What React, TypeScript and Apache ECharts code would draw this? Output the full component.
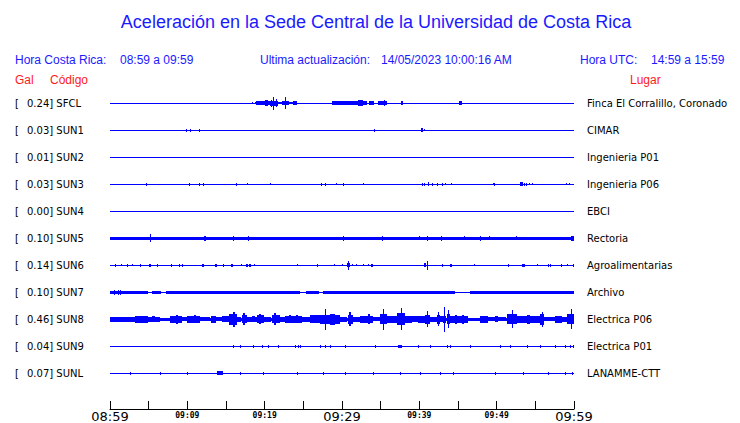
import React, { useEffect, useRef } from "react";
import * as echarts from "echarts";

const TITLE = "Aceleración en la Sede Central de la Universidad de Costa Rica";
const HORA_CR = "08:59 a 09:59";
const ULTIMA = "14/05/2023 10:00:16 AM";
const HORA_UTC = "14:59 a 15:59";

const STATIONS = ["SFCL", "SUN1", "SUN2", "SUN3", "SUN4", "SUN5", "SUN6", "SUN7", "SUN8", "SUN9", "SUNL"];
const PEAK_GAL = ["0.24", "0.03", "0.01", "0.03", "0.00", "0.10", "0.14", "0.10", "0.46", "0.04", "0.07"];
const PLACES = [
  "Finca El Corralillo, Coronado", "CIMAR", "Ingenieria P01", "Ingenieria P06", "EBCI",
  "Rectoria", "Agroalimentarias", "Archivo", "Electrica P06", "Electrica P01", "LANAMME-CTT",
];
// minutes after 08:59 -> label
const TIME_LABELS = ["08:59", "09:09", "09:19", "09:29", "09:39", "09:49", "09:59"];

// baseline half-thickness of each trace (fraction of row spacing)
const BASE_HALF = [0.02, 0.02, 0.02, 0.02, 0.02, 0.062, 0.02, 0.02, 0.05, 0.02, 0.02];

// bursts: [startMinute, endMinute, halfAmplitude (fraction of row spacing)]
const SFCL = [
  [18.32, 18.32, 0.04], [18.71, 18.71, 0.03], [18.88, 20.04, 0.07], [20.04, 20.43, 0.11],
  [20.43, 20.69, 0.07], [20.69, 21.72, 0.1], [20.82, 20.86, 0.13], [21.12, 21.25, 0.24],
  [21.43, 21.47, 0.15], [21.72, 22.24, 0.04], [22.24, 23.15, 0.07], [22.6, 22.7, 0.23],
  [23.15, 23.66, 0.04], [23.66, 24.18, 0.07], [28.71, 32.07, 0.07], [32.07, 32.72, 0.11],
  [32.72, 33.23, 0.07], [33.49, 34.14, 0.07], [34.66, 35.82, 0.07], [35.4, 35.5, 0.11],
  [37.63, 37.89, 0.07], [45.13, 45.52, 0.07],
];
const SUN1 = [
  [9.87, 9.87, 0.06], [10.38, 10.38, 0.06], [11.55, 11.55, 0.06], [34.18, 34.18, 0.06],
  [40.18, 40.44, 0.07], [40.61, 40.61, 0.04],
];
const SUN2: number[][] = [];
const SUN3 = [
  [4.69, 4.69, 0.05], [10.25, 10.25, 0.05], [11.47, 11.64, 0.06], [12.07, 12.25, 0.06],
  [16.33, 16.33, 0.05], [17.76, 17.76, 0.04], [20.73, 20.73, 0.04], [27.32, 27.32, 0.05],
  [27.84, 27.84, 0.05], [29.26, 29.26, 0.04], [30.17, 30.17, 0.06], [32.76, 32.76, 0.04],
  [40.39, 40.39, 0.05], [40.64, 40.64, 0.05], [41.08, 41.25, 0.07], [41.68, 41.68, 0.05],
  [42.32, 42.32, 0.05], [42.89, 42.89, 0.05], [43.36, 43.36, 0.04], [44.14, 44.14, 0.04],
  [49.49, 49.49, 0.04], [49.7, 49.7, 0.05], [53.02, 53.37, 0.07], [53.58, 53.58, 0.05],
  [53.83, 53.83, 0.05], [54.18, 54.18, 0.04], [54.61, 54.61, 0.04], [59.01, 59.01, 0.04],
  [59.39, 59.39, 0.04],
];
const SUN4: number[][] = [];
const SUN5 = [
  [5.21, 5.21, 0.14], [12.1, 12.3, 0.09], [15.94, 15.94, 0.09], [17.88, 17.88, 0.09],
  [30.09, 30.26, 0.1], [35.13, 35.13, 0.09], [40.0, 40.0, 0.07], [41.03, 41.03, 0.09],
  [42.84, 42.84, 0.09], [45.82, 45.82, 0.08], [47.88, 47.88, 0.09], [49.05, 49.05, 0.08],
  [52.5, 52.5, 0.08], [59.57, 60, 0.09],
];
const SUN6 = [
  [0.61, 0.61, 0.05], [1.46, 1.46, 0.03], [2.16, 2.16, 0.05], [2.88, 2.88, 0.03],
  [3.84, 3.84, 0.05], [5.08, 5.39, 0.06], [6.12, 6.12, 0.05], [7.93, 7.93, 0.05],
  [8.96, 8.96, 0.05], [9.27, 9.27, 0.05], [11.86, 12.12, 0.06], [13.58, 13.88, 0.06],
  [14.65, 14.65, 0.05], [15.65, 15.87, 0.06], [16.98, 16.98, 0.03], [17.59, 17.81, 0.06],
  [18.01, 18.32, 0.06], [18.66, 18.66, 0.03], [24.14, 24.14, 0.03], [26.73, 26.73, 0.05],
  [29.01, 29.01, 0.03], [29.94, 29.94, 0.03], [30.61, 31.04, 0.08], [30.75, 30.85, 0.16],
  [31.29, 31.29, 0.04], [31.81, 31.81, 0.03], [32.76, 32.76, 0.03], [33.4, 33.4, 0.03],
  [33.75, 34.05, 0.06], [40.6, 40.86, 0.07], [41.0, 41.12, 0.16], [42.97, 42.97, 0.05],
  [43.97, 44.19, 0.06], [47.11, 47.11, 0.03], [51.51, 51.51, 0.05], [53.32, 53.66, 0.06],
  [55.26, 55.26, 0.03], [56.68, 56.68, 0.06], [56.9, 56.9, 0.06], [58.32, 58.49, 0.06],
  [59.06, 59.06, 0.03], [59.91, 59.91, 0.06],
];
const SUN7 = [
  [0, 4.9, 0.055], [5.4, 6.5, 0.055], [7.2, 24.5, 0.055], [25.3, 27.0, 0.055],
  [27.6, 44.7, 0.055], [46.5, 60, 0.055], [0.5, 0.5, 0.09], [1.0, 1.0, 0.09], [1.35, 1.35, 0.09],
];
const SUN8 = [
  [0, 3.23, 0.085], [0, 0.26, 0.1], [1.29, 2.33, 0.1], [3.23, 4.95, 0.122], [4.95, 6.47, 0.085],
  [5.39, 5.82, 0.11], [7.76, 9.27, 0.137], [8.5, 8.75, 0.16], [9.27, 10.0, 0.074],
  [10.0, 11.64, 0.122], [10.9, 11.1, 0.15], [11.64, 12.93, 0.074], [13.06, 13.67, 0.122],
  [13.67, 14.44, 0.074], [14.44, 15.3, 0.11], [15.43, 16.46, 0.2], [15.85, 16.05, 0.28],
  [16.46, 17.03, 0.093], [17.03, 17.68, 0.15], [17.25, 17.45, 0.215], [17.68, 18.97, 0.093],
  [18.32, 18.75, 0.11], [18.97, 19.82, 0.15], [19.3, 19.5, 0.185], [19.82, 20.91, 0.093],
  [20.91, 21.98, 0.15], [21.25, 21.45, 0.215], [21.98, 22.63, 0.093], [22.63, 24.79, 0.122],
  [23.2, 23.4, 0.15], [24.1, 24.3, 0.15], [24.79, 25.86, 0.085], [25.86, 27.16, 0.15],
  [27.75, 27.85, 0.39], [27.16, 29.74, 0.167], [28.45, 29.1, 0.204], [29.74, 30.61, 0.093],
  [30.82, 31.46, 0.16], [30.9, 31.1, 0.26], [31.46, 32.33, 0.085], [32.33, 34.05, 0.137],
  [33.36, 33.62, 0.185], [34.05, 34.91, 0.074], [34.91, 35.78, 0.185], [35.25, 35.4, 0.39],
  [35.78, 37.07, 0.122], [37.07, 38.15, 0.222], [37.65, 37.8, 0.407], [38.15, 39.01, 0.137],
  [39.01, 39.87, 0.11], [39.87, 40.74, 0.13], [40.74, 41.38, 0.167], [40.95, 41.1, 0.29],
  [41.38, 42.25, 0.1], [42.25, 42.67, 0.167], [42.4, 42.55, 0.26], [42.67, 43.1, 0.11],
  [43.2, 43.3, 0.46], [43.1, 43.54, 0.13], [43.54, 43.97, 0.185], [43.65, 43.8, 0.333],
  [43.97, 46.33, 0.13], [44.6, 44.8, 0.167], [45.5, 45.7, 0.167], [46.33, 47.85, 0.055],
  [47.85, 48.92, 0.122], [48.92, 49.79, 0.074], [49.79, 50.21, 0.11], [50.21, 51.3, 0.074],
  [51.3, 52.59, 0.185], [52.0, 52.15, 0.326], [52.59, 55.6, 0.13], [53.88, 54.31, 0.167],
  [55.6, 56.12, 0.204], [55.8, 55.95, 0.278], [56.12, 57.55, 0.074], [57.55, 58.41, 0.13],
  [58.41, 59.06, 0.093], [59.06, 60, 0.185], [59.55, 59.7, 0.37],
];
const SUN9 = [
  [15.9, 15.9, 0.06], [16.81, 16.81, 0.05], [18.49, 18.49, 0.05], [19.66, 19.66, 0.05],
  [20.43, 20.43, 0.05], [21.72, 21.72, 0.05], [23.92, 23.92, 0.05], [24.31, 24.31, 0.05],
  [24.57, 24.57, 0.05], [27.16, 27.16, 0.05], [27.8, 27.8, 0.05], [28.45, 28.45, 0.05],
  [30.39, 30.39, 0.05], [34.27, 34.27, 0.05], [37.24, 37.76, 0.06], [39.83, 39.83, 0.05],
  [41.38, 41.38, 0.05], [43.58, 43.58, 0.05], [43.97, 43.97, 0.05], [46.55, 46.55, 0.05],
  [50.43, 50.43, 0.05], [51.73, 51.73, 0.05], [53.93, 53.93, 0.05], [55.6, 55.6, 0.05],
  [57.55, 57.55, 0.05], [58.84, 58.84, 0.05], [59.49, 59.49, 0.05], [59.88, 59.88, 0.05],
];
const SUNL = [
  [2.59, 2.59, 0.05], [6.47, 6.47, 0.05], [9.96, 9.96, 0.05], [13.84, 14.61, 0.07],
  [16.81, 16.81, 0.05], [19.78, 19.78, 0.05], [24.18, 24.18, 0.05], [27.54, 27.54, 0.05],
  [30.39, 30.39, 0.05], [34.01, 34.01, 0.05], [37.5, 37.5, 0.05], [40.09, 40.09, 0.05],
  [42.67, 42.67, 0.05], [44.35, 44.35, 0.05], [49.79, 49.79, 0.05], [53.41, 53.41, 0.05],
  [56.64, 56.64, 0.05], [58.84, 58.84, 0.05], [59.75, 59.75, 0.05],
];
const TRACES = [SFCL, SUN1, SUN2, SUN3, SUN4, SUN5, SUN6, SUN7, SUN8, SUN9, SUNL];

const BLUE = "#0000ff";
const TEXT_BLUE = "#1a1aff";
const RED = "#ff1a1a";

export default function App() {
  const ref = useRef<HTMLDivElement>(null);
  useEffect(() => {
    if (!ref.current) return;
    const chart = echarts.init(ref.current, null, { renderer: "svg" });

    const data: number[][] = [];
    TRACES.forEach((tr, row) => {
      data.push([row, 0, 60, BASE_HALF[row]]);
      tr.forEach((b) => data.push([row, b[0], b[1], b[2]]));
    });

    const renderItem = (_params: any, api: any) => {
      const row = api.value(0);
      const t0 = api.value(1);
      const t1 = api.value(2);
      const a = api.value(3);
      const pA = api.coord([t0, row - a]);
      const pB = api.coord([t1, row + a]);
      const x = Math.round(Math.min(pA[0], pB[0]));
      let w = Math.round(Math.abs(pB[0] - pA[0]));
      if (w < 1) w = 1;
      const cy = (pA[1] + pB[1]) / 2;
      let h = Math.round(Math.abs(pB[1] - pA[1]));
      if (h < 1) h = 1;
      const y = Math.round(cy - h / 2);
      return {
        type: "rect",
        shape: { x, y, width: w, height: h },
        style: { fill: BLUE },
      };
    };

    const yLabelLeft = (v: number) => {
      const i = Math.round(v);
      if (Math.abs(v - i) > 1e-6 || i < 0 || i >= STATIONS.length) return "";
      return `{b|[}{v|${PEAK_GAL[i]}] ${STATIONS[i]}}`;
    };
    const yLabelRight = (v: number) => {
      const i = Math.round(v);
      if (Math.abs(v - i) > 1e-6 || i < 0 || i >= PLACES.length) return "";
      return PLACES[i];
    };

    const hdrFont = { fontFamily: "Liberation Sans", fontSize: 12 };

    chart.setOption({
      animation: false,
      backgroundColor: "#ffffff",
      grid: { left: 110, right: 166, top: 76, bottom: 14, outerBoundsMode: "none" },
      xAxis: {
        type: "value",
        min: 0,
        max: 60,
        interval: 5,
        axisLine: { show: true, onZero: false, lineStyle: { color: "#000", width: 1 } },
        axisTick: { show: true, inside: true, length: 8, lineStyle: { color: "#000", width: 1 } },
        splitLine: { show: false },
        axisLabel: {
          margin: 1,
          formatter: (v: number) => {
            const m = Math.round(v);
            if (m % 10 !== 0) return "";
            const lab = TIME_LABELS[m / 10];
            return m % 30 === 0 ? `{big|${lab}}` : `{small|${lab}}`;
          },
          rich: {
            big: { fontFamily: "DejaVu Sans", fontSize: 13, lineHeight: 12, color: "#000" },
            small: { fontFamily: "DejaVu Sans Mono", fontSize: 8, lineHeight: 10, fontWeight: "bold", color: "#000" },
          },
        },
      },
      yAxis: [
        {
          type: "value",
          inverse: true,
          min: -1,
          max: 34 / 3,
          interval: 1,
          position: "left",
          axisLine: { show: false },
          axisTick: { show: false },
          splitLine: { show: false },
          axisLabel: {
            align: "left",
            margin: 95,
            formatter: yLabelLeft,
            rich: {
              b: { fontFamily: "DejaVu Sans", fontSize: 10, color: "#000", width: 12 },
              v: { fontFamily: "DejaVu Sans", fontSize: 10, color: "#000" },
            },
          },
        },
        {
          type: "value",
          inverse: true,
          min: -1,
          max: 34 / 3,
          interval: 1,
          position: "right",
          axisLine: { show: false },
          axisTick: { show: false },
          splitLine: { show: false },
          axisLabel: {
            align: "left",
            margin: 13,
            fontFamily: "DejaVu Sans",
            fontSize: 10,
            color: "#000",
            formatter: yLabelRight,
          },
        },
      ],
      graphic: [
        {
          type: "text",
          x: 376,
          y: 22,
          style: {
            text: TITLE,
            fontFamily: "Liberation Sans",
            fontSize: 18,
            fill: TEXT_BLUE,
            textAlign: "center",
            textVerticalAlign: "middle",
          },
        },
        { type: "text", x: 15, y: 60, style: { text: "Hora Costa Rica:", ...hdrFont, fill: TEXT_BLUE, textVerticalAlign: "middle" } },
        { type: "text", x: 120, y: 60, style: { text: HORA_CR, ...hdrFont, fill: TEXT_BLUE, textVerticalAlign: "middle" } },
        { type: "text", x: 260, y: 60, style: { text: "Ultima actualización:", ...hdrFont, fill: TEXT_BLUE, textVerticalAlign: "middle" } },
        { type: "text", x: 381, y: 60, style: { text: ULTIMA, ...hdrFont, fill: TEXT_BLUE, textVerticalAlign: "middle" } },
        { type: "text", x: 580, y: 60, style: { text: "Hora UTC:", ...hdrFont, fill: TEXT_BLUE, textVerticalAlign: "middle" } },
        { type: "text", x: 651, y: 60, style: { text: HORA_UTC, ...hdrFont, fill: TEXT_BLUE, textVerticalAlign: "middle" } },
        { type: "text", x: 15, y: 80, style: { text: "Gal", ...hdrFont, fill: RED, textVerticalAlign: "middle" } },
        { type: "text", x: 50, y: 80, style: { text: "Código", ...hdrFont, fill: RED, textVerticalAlign: "middle" } },
        { type: "text", x: 630, y: 80, style: { text: "Lugar", ...hdrFont, fill: RED, textVerticalAlign: "middle" } },
      ],
      series: [
        {
          type: "custom",
          xAxisIndex: 0,
          yAxisIndex: 0,
          renderItem,
          encode: { x: [1, 2], y: [0] },
          data,
          clip: false,
          silent: true,
        },
      ],
    });

    return () => chart.dispose();
  }, []);

  return (
    <div
      ref={ref}
      style={{ position: "absolute", left: 0, top: 0, width: 740, height: 423, background: "#fff" }}
    />
  );
}
